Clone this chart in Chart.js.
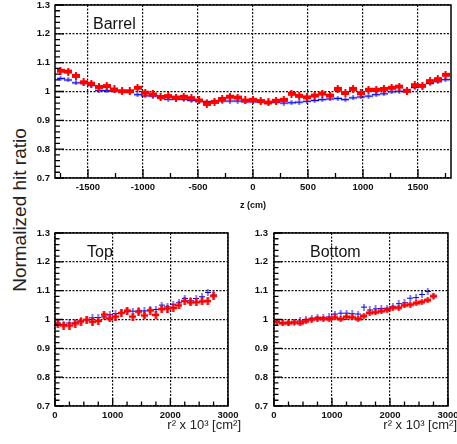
<!DOCTYPE html>
<html>
<head>
<meta charset="utf-8">
<script src="https://cdn.jsdelivr.net/npm/chart.js@4.4.1/dist/chart.umd.min.js"></script>
<style>
  body { margin: 0; background: #fff; width: 457px; height: 444px; position: relative; overflow: hidden; font-family: "Liberation Sans", Arial, sans-serif; }
  canvas { position: absolute; }
  #ylab { position: absolute; left: 20px; top: 210px; transform: translate(-50%, -50%) rotate(-90deg); font-size: 19px; color: #222; white-space: nowrap; }
</style>
</head>
<body>
<div id="ylab">Normalized hit ratio</div>
<canvas id="barrel" width="457" height="215" style="left:0;top:0;width:457px;height:215px"></canvas>
<canvas id="top" width="244" height="229" style="left:0;top:215px;width:244px;height:229px"></canvas>
<canvas id="bottom" width="213" height="229" style="left:244px;top:215px;width:213px;height:229px"></canvas>
<script>
// barrel: bin centres in z (cm)
const zCenters = [-1750, -1680, -1610, -1540, -1470, -1400, -1330, -1260, -1190, -1120,
  -1050, -980, -910, -840, -770, -700, -630, -560, -490, -420,
  -350, -280, -210, -140, -70, 0, 70, 140, 210, 280,
  350, 420, 490, 560, 630, 700, 770, 840, 910, 980,
  1050, 1120, 1190, 1260, 1330, 1400, 1470, 1540, 1610, 1680, 1750];
const barrelRed = [1.072, 1.069, 1.054, 1.032, 1.027, 1.016, 1.019, 1.007, 1.001, 1.001,
  1.013, 0.996, 0.990, 0.981, 0.984, 0.979, 0.982, 0.977, 0.969, 0.957,
  0.964, 0.974, 0.982, 0.979, 0.969, 0.971, 0.967, 0.962, 0.968, 0.971,
  0.992, 0.985, 0.980, 0.986, 0.993, 0.986, 1.009, 0.995, 1.009, 0.994,
  1.006, 1.006, 1.009, 1.013, 1.017, 1.002, 1.022, 1.020, 1.036, 1.043, 1.058];
const barrelBlue = [1.045, 1.040, 1.030, 1.029, 1.021, 1.004, 1.003, 1.002, 1.000, 1.000,
  0.989, 0.985, 0.984, 0.978, 0.973, 0.973, 0.973, 0.969, 0.968, 0.965,
  0.966, 0.967, 0.967, 0.967, 0.965, 0.964, 0.964, 0.962, 0.962, 0.960,
  0.961, 0.963, 0.966, 0.969, 0.972, 0.974, 0.976, 0.972, 0.978, 0.981,
  0.984, 0.989, 0.992, 0.999, 1.001, 1.006, 1.014, 1.017, 1.028, 1.034, 1.041];

// endcaps: bin centres in r^2 x 10^3 (cm^2)
const rCenters = [50, 150, 250, 350, 450, 550, 650, 750, 850, 950,
  1050, 1150, 1250, 1350, 1450, 1550, 1650, 1750, 1850, 1950,
  2050, 2150, 2250, 2350, 2450, 2550, 2650, 2750];
const topRed = [0.984, 0.979, 0.979, 0.986, 0.993, 0.999, 0.992, 0.995, 1.017, 1.004,
  1.010, 1.023, 1.031, 1.010, 1.027, 1.014, 1.031, 1.016, 1.036, 1.038,
  1.040, 1.049, 1.064, 1.059, 1.060, 1.063, 1.064, 1.082];
const topBlue = [0.988, 0.983, 0.988, 0.988, 0.995, 1.000, 1.006, 1.007, 1.009, 1.017,
  1.021, 1.023, 1.027, 1.029, 1.030, 1.030, 1.033, 1.035, 1.050, 1.044,
  1.053, 1.058, 1.073, 1.065, 1.073, 1.079, 1.094, 1.085];
const botRed = [0.992, 0.987, 0.987, 0.990, 0.987, 0.994, 1.000, 1.003, 1.003, 1.002,
  1.007, 1.002, 1.009, 1.007, 1.002, 1.012, 1.023, 1.025, 1.029, 1.034,
  1.041, 1.041, 1.049, 1.052, 1.057, 1.061, 1.067, 1.081];
const botBlue = [0.991, 0.989, 0.991, 0.990, 0.995, 1.000, 1.004, 1.008, 1.006, 1.009,
  1.019, 1.022, 1.022, 1.020, 1.019, 1.043, 1.033, 1.037, 1.038, 1.039,
  1.044, 1.055, 1.058, 1.074, 1.076, 1.087, 1.097, 1.080];

const FONT = '"Liberation Sans", Arial, sans-serif';

// histogram-style marker: horizontal bin bar + vertical error bar
function marker(color, w, h, barT, vertT) {
  const c = document.createElement('canvas');
  c.width = w; c.height = h;
  const g = c.getContext('2d');
  g.fillStyle = color;
  g.fillRect(0, (h - barT) / 2, w, barT);
  g.fillRect((w - vertT) / 2, 0, vertT, h);
  return c;
}

// ROOT-like frame with inward ticks, panel label and x title
const framePlugin = {
  id: 'frame',
  afterDraw(chart, args, o) {
    const { ctx, chartArea: a, scales: { x, y } } = chart;
    ctx.save();
    ctx.strokeStyle = '#000';
    ctx.lineWidth = 1.5;
    ctx.strokeRect(a.left, a.top, a.right - a.left, a.bottom - a.top);
    ctx.lineWidth = 1.3;
    ctx.beginPath();
    for (let n = Math.ceil(x.min / o.xMinor); n * o.xMinor <= x.max; n++) {
      const v = n * o.xMinor;
      const major = Math.abs(v / o.xMajor - Math.round(v / o.xMajor)) < 1e-6;
      const px = x.getPixelForValue(v);
      ctx.moveTo(px, a.bottom);
      ctx.lineTo(px, a.bottom - (major ? o.tickMajor : o.tickMinor));
    }
    for (let n = Math.ceil(y.min / 0.02 - 1e-6); n * 0.02 <= y.max + 1e-6; n++) {
      const major = n % 5 === 0;
      const py = y.getPixelForValue(n * 0.02);
      ctx.moveTo(a.left, py);
      ctx.lineTo(a.left + (major ? o.tickMajor : o.tickMinor), py);
    }
    ctx.stroke();

    ctx.fillStyle = '#111';
    ctx.font = '16px ' + FONT;
    ctx.textBaseline = 'middle';
    ctx.textAlign = 'left';
    ctx.fillText(o.label, a.left + o.labelDx, a.top + 20);

    if (o.xTitle) {
      ctx.font = '13px ' + FONT;
      ctx.fillStyle = '#222';
      ctx.textAlign = 'right';
      ctx.fillText(o.xTitle, chart.width - o.xTitleRight, o.xTitleY);
    }
    ctx.restore();
  }
};

function makePanel(id, xs, red, blue, cfg) {
  const tickFont = { family: FONT, size: 9.5, weight: 'bold' };
  new Chart(document.getElementById(id), {
    type: 'scatter',
    data: {
      datasets: [
        {
          label: 'red',
          data: xs.map((v, i) => ({ x: v, y: red[i] })),
          pointStyle: cfg.redMarker,
          pointRadius: 3
        },
        {
          label: 'blue',
          data: xs.map((v, i) => ({ x: v, y: blue[i] })),
          pointStyle: cfg.blueMarker,
          pointRadius: 3
        }
      ]
    },
    options: {
      responsive: false,
      animation: false,
      events: [],
      layout: { padding: cfg.padding },
      plugins: {
        legend: { display: false },
        tooltip: { enabled: false },
        frame: cfg.frame
      },
      scales: {
        x: {
          type: 'linear',
          min: cfg.xMin,
          max: cfg.xMax,
          ticks: {
            autoSkip: false,
            maxRotation: 0,
            padding: 4,
            color: '#111',
            font: tickFont,
            callback: (v) => String(Math.round(v))
          },
          afterBuildTicks: (s) => {
            const t = [];
            for (let n = Math.ceil(cfg.xMin / cfg.xStep); n * cfg.xStep <= cfg.xMax; n++) t.push({ value: n * cfg.xStep });
            s.ticks = t;
          },
          afterFit: (s) => {
            s.height = cfg.xHeight;
            s.paddingLeft = 0;
            s.paddingRight = 0;
          },
          grid: { color: '#111', lineWidth: 1.2, drawTicks: false },
          border: { display: false, dash: [2, 1.5] },
          title: cfg.zTitle ? {
            display: true,
            text: cfg.zTitle,
            color: '#111',
            font: { family: FONT, size: 9, weight: 'bold' },
            padding: { top: 0, bottom: 4 }
          } : { display: false }
        },
        y: {
          min: 0.7,
          max: 1.3,
          ticks: {
            stepSize: 0.1,
            padding: cfg.yPad,
            color: '#111',
            font: tickFont,
            callback: (v) => String(Math.round(v * 10) / 10)
          },
          afterFit: (s) => {
            s.width = cfg.yWidth;
            s.paddingTop = 0;
            s.paddingBottom = 0;
          },
          grid: { color: '#111', lineWidth: 1.2, drawTicks: false },
          border: { display: false, dash: [2, 1.5] }
        }
      }
    },
    plugins: [framePlugin]
  });
}

makePanel('barrel', zCenters, barrelRed, barrelBlue, {
  redMarker: marker('#ff0000', 8, 8, 4, 2),
  blueMarker: marker('#0000ee', 8, 5, 1.5, 1),
  padding: { left: 0, top: 5, right: 6, bottom: 0 },
  xMin: -1800, xMax: 1800, xStep: 500,
  xHeight: 37, yWidth: 55, yPad: 5,
  zTitle: 'z (cm)',
  frame: { xMinor: 250, xMajor: 500, tickMajor: 9, tickMinor: 5, label: 'Barrel', labelDx: 38 }
});

makePanel('top', rCenters, topRed, topBlue, {
  redMarker: marker('#ff0000', 7, 8, 2.5, 2.5),
  blueMarker: marker('#0000ee', 6, 7, 1, 1),
  padding: { left: 0, top: 18, right: 16, bottom: 0 },
  xMin: 0, xMax: 3000, xStep: 1000,
  xHeight: 38, yWidth: 55, yPad: 5,
  frame: { xMinor: 250, xMajor: 1000, tickMajor: 8, tickMinor: 4.5, label: 'Top', labelDx: 32,
    xTitle: 'r² x 10³ [cm²]', xTitleRight: 3, xTitleY: 210 }
});

makePanel('bottom', rCenters, botRed, botBlue, {
  redMarker: marker('#ff0000', 7, 6, 3, 2),
  blueMarker: marker('#0000ee', 6, 7, 1, 1),
  padding: { left: 0, top: 18, right: 9, bottom: 0 },
  xMin: 0, xMax: 3000, xStep: 1000,
  xHeight: 38, yWidth: 30, yPad: 6,
  frame: { xMinor: 250, xMajor: 1000, tickMajor: 8, tickMinor: 4.5, label: 'Bottom', labelDx: 36,
    xTitle: 'r² x 10³ [cm²]', xTitleRight: 0, xTitleY: 210 }
});
</script>
</body>
</html>
